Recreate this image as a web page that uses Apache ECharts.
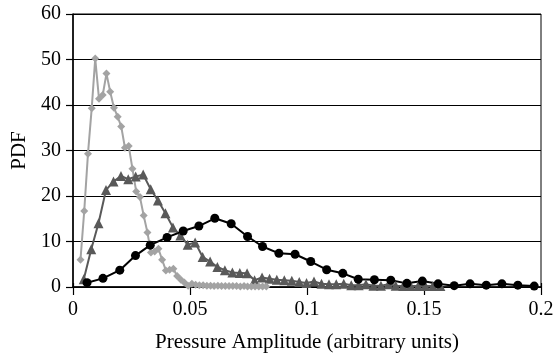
<!DOCTYPE html>
<html>
<head>
<meta charset="utf-8">
<script src="https://cdn.jsdelivr.net/npm/echarts@6/dist/echarts.min.js"></script>
<style>
  html, body { margin: 0; padding: 0; background: #fff; }
  #chart { width: 554px; height: 356px; }
</style>
</head>
<body>
<div id="chart"></div>
<script>
// Pressure amplitude bins and PDF values for three distributions
const diamondX = [0.0032, 0.0048, 0.0064, 0.0080, 0.0095, 0.0111, 0.0127, 0.0143, 0.0159, 0.0175,
  0.0191, 0.0206, 0.0222, 0.0238, 0.0254, 0.0270, 0.0286, 0.0302, 0.0318, 0.0333,
  0.0349, 0.0365, 0.0381, 0.0397, 0.0413, 0.0429, 0.0445, 0.0461, 0.0476, 0.0492,
  0.0508, 0.0524, 0.0540, 0.0556, 0.0572, 0.0588, 0.0603, 0.0619, 0.0635, 0.0651,
  0.0667, 0.0683, 0.0699, 0.0715, 0.0731, 0.0746, 0.0762, 0.0778, 0.0794, 0.0810, 0.0826];
const diamondY = [6.0, 16.7, 29.3, 39.3, 50.2, 41.4, 42.2, 46.9, 42.9, 39.4,
  37.4, 35.3, 30.6, 31.0, 26.0, 21.0, 19.8, 15.7, 12.0, 7.6,
  7.8, 8.4, 6.0, 3.6, 3.8, 4.0, 2.4, 1.6, 1.0, 0.3,
  0.7, 0.5, 0.4, 0.4, 0.3, 0.3, 0.2, 0.3, 0.2, 0.2,
  0.2, 0.2, 0.2, 0.1, 0.2, 0.1, 0.1, 0.1, 0.1, 0.1, 0.1];

const triangleX = [0.0046, 0.0078, 0.0109, 0.0141, 0.0173, 0.0205, 0.0236, 0.0268, 0.0300, 0.0332,
  0.0363, 0.0395, 0.0427, 0.0459, 0.0490, 0.0522, 0.0554, 0.0586, 0.0617, 0.0649,
  0.0681, 0.0713, 0.0744, 0.0776, 0.0808, 0.0840, 0.0871, 0.0903, 0.0935, 0.0967,
  0.0998, 0.1030, 0.1062, 0.1094, 0.1125, 0.1157, 0.1189, 0.1221, 0.1252, 0.1284,
  0.1316, 0.1348, 0.1379, 0.1411, 0.1443, 0.1475, 0.1506, 0.1538, 0.1570];
const triangleY = [1.7, 8.3, 14.0, 21.3, 23.2, 24.4, 23.7, 24.3, 24.7, 21.5,
  19.0, 16.2, 13.1, 11.3, 9.3, 9.8, 6.6, 5.6, 4.4, 3.7,
  3.2, 3.1, 3.0, 1.5, 2.1, 1.8, 1.6, 1.5, 1.4, 1.1,
  0.9, 1.2, 0.7, 0.6, 0.6, 0.7, 0.4, 0.4, 0.6, 0.3,
  0.3, 0.6, 0.3, 0.2, 0.2, 0.2, 0.2, 0.2, 0.2];

const circleX = [0.0060, 0.0128, 0.0200, 0.0267, 0.0330, 0.0402, 0.0471, 0.0538, 0.0606, 0.0676,
  0.0746, 0.0810, 0.0880, 0.0949, 0.1016, 0.1084, 0.1153, 0.1219, 0.1288, 0.1358,
  0.1427, 0.1493, 0.1560, 0.1629, 0.1697, 0.1766, 0.1833, 0.1901, 0.1971];
const circleY = [0.95, 1.9, 3.7, 6.9, 9.2, 10.9, 12.3, 13.4, 15.1, 13.9,
  11.1, 8.9, 7.4, 7.2, 5.6, 3.8, 3.0, 1.7, 1.6, 1.5,
  0.8, 1.3, 0.7, 0.3, 0.7, 0.4, 0.7, 0.4, 0.2];

const xTicks = { min: 0, max: 0.2, step: 0.05 };
const yTicks = { min: 0, max: 60, step: 10 };

const pairs = (xs, ys) => xs.map((x, i) => [x, ys[i]]);
const FONT = 'Liberation Serif';

const chart = echarts.init(document.getElementById('chart'), null, { renderer: 'canvas' });
chart.setOption({
  animation: false,
  backgroundColor: '#fff',
  grid: {
    left: 73, right: 13, top: 14, bottom: 69,
    outerBoundsMode: 'none', containLabel: false,
    show: true, borderColor: '#000', borderWidth: 1
  },
  xAxis: [{
    type: 'value', min: xTicks.min, max: xTicks.max, interval: xTicks.step,
    name: 'Pressure Amplitude (arbitrary units)', nameLocation: 'middle', nameGap: 45,
    nameTextStyle: { fontFamily: FONT, fontSize: 21, color: '#000' },
    axisLine: { lineStyle: { color: '#000', width: 1.5 } },
    axisTick: { show: true, length: 8, lineStyle: { color: '#000', width: 1.2 } },
    axisLabel: { fontFamily: FONT, fontSize: 20, color: '#000', margin: 13 },
    splitLine: { show: false }
  }, {
    type: 'value', min: xTicks.min, max: xTicks.max, interval: xTicks.step, position: 'bottom',
    axisLine: { show: false },
    axisTick: { show: true, inside: true, length: 4, lineStyle: { color: '#000', width: 1.2 } },
    axisLabel: { show: false }, splitLine: { show: false }
  }],
  yAxis: {
    type: 'value', min: yTicks.min, max: yTicks.max, interval: yTicks.step,
    name: 'PDF', nameLocation: 'middle', nameGap: 40,
    nameTextStyle: { fontFamily: FONT, fontSize: 21, color: '#000' },
    axisLine: { show: true, lineStyle: { color: '#000', width: 1.5 } },
    axisTick: { show: true, length: 7, lineStyle: { color: '#000', width: 1.2 } },
    axisLabel: { fontFamily: FONT, fontSize: 20, color: '#000', margin: 12 },
    splitLine: { show: true, lineStyle: { color: '#000', width: 1 } }
  },
  series: [
    {
      type: 'line', data: pairs(triangleX, triangleY),
      symbol: 'triangle', symbolSize: 10,
      lineStyle: { color: '#595959', width: 2 },
      itemStyle: { color: '#595959' }
    },
    {
      type: 'line', data: pairs(diamondX, diamondY),
      symbol: 'diamond', symbolSize: 8,
      lineStyle: { color: '#a3a3a3', width: 2 },
      itemStyle: { color: '#a3a3a3' }
    },
    {
      type: 'line', data: pairs(circleX, circleY),
      symbol: 'circle', symbolSize: 9,
      lineStyle: { color: '#000', width: 2 },
      itemStyle: { color: '#000' }
    }
  ]
});
</script>
</body>
</html>
